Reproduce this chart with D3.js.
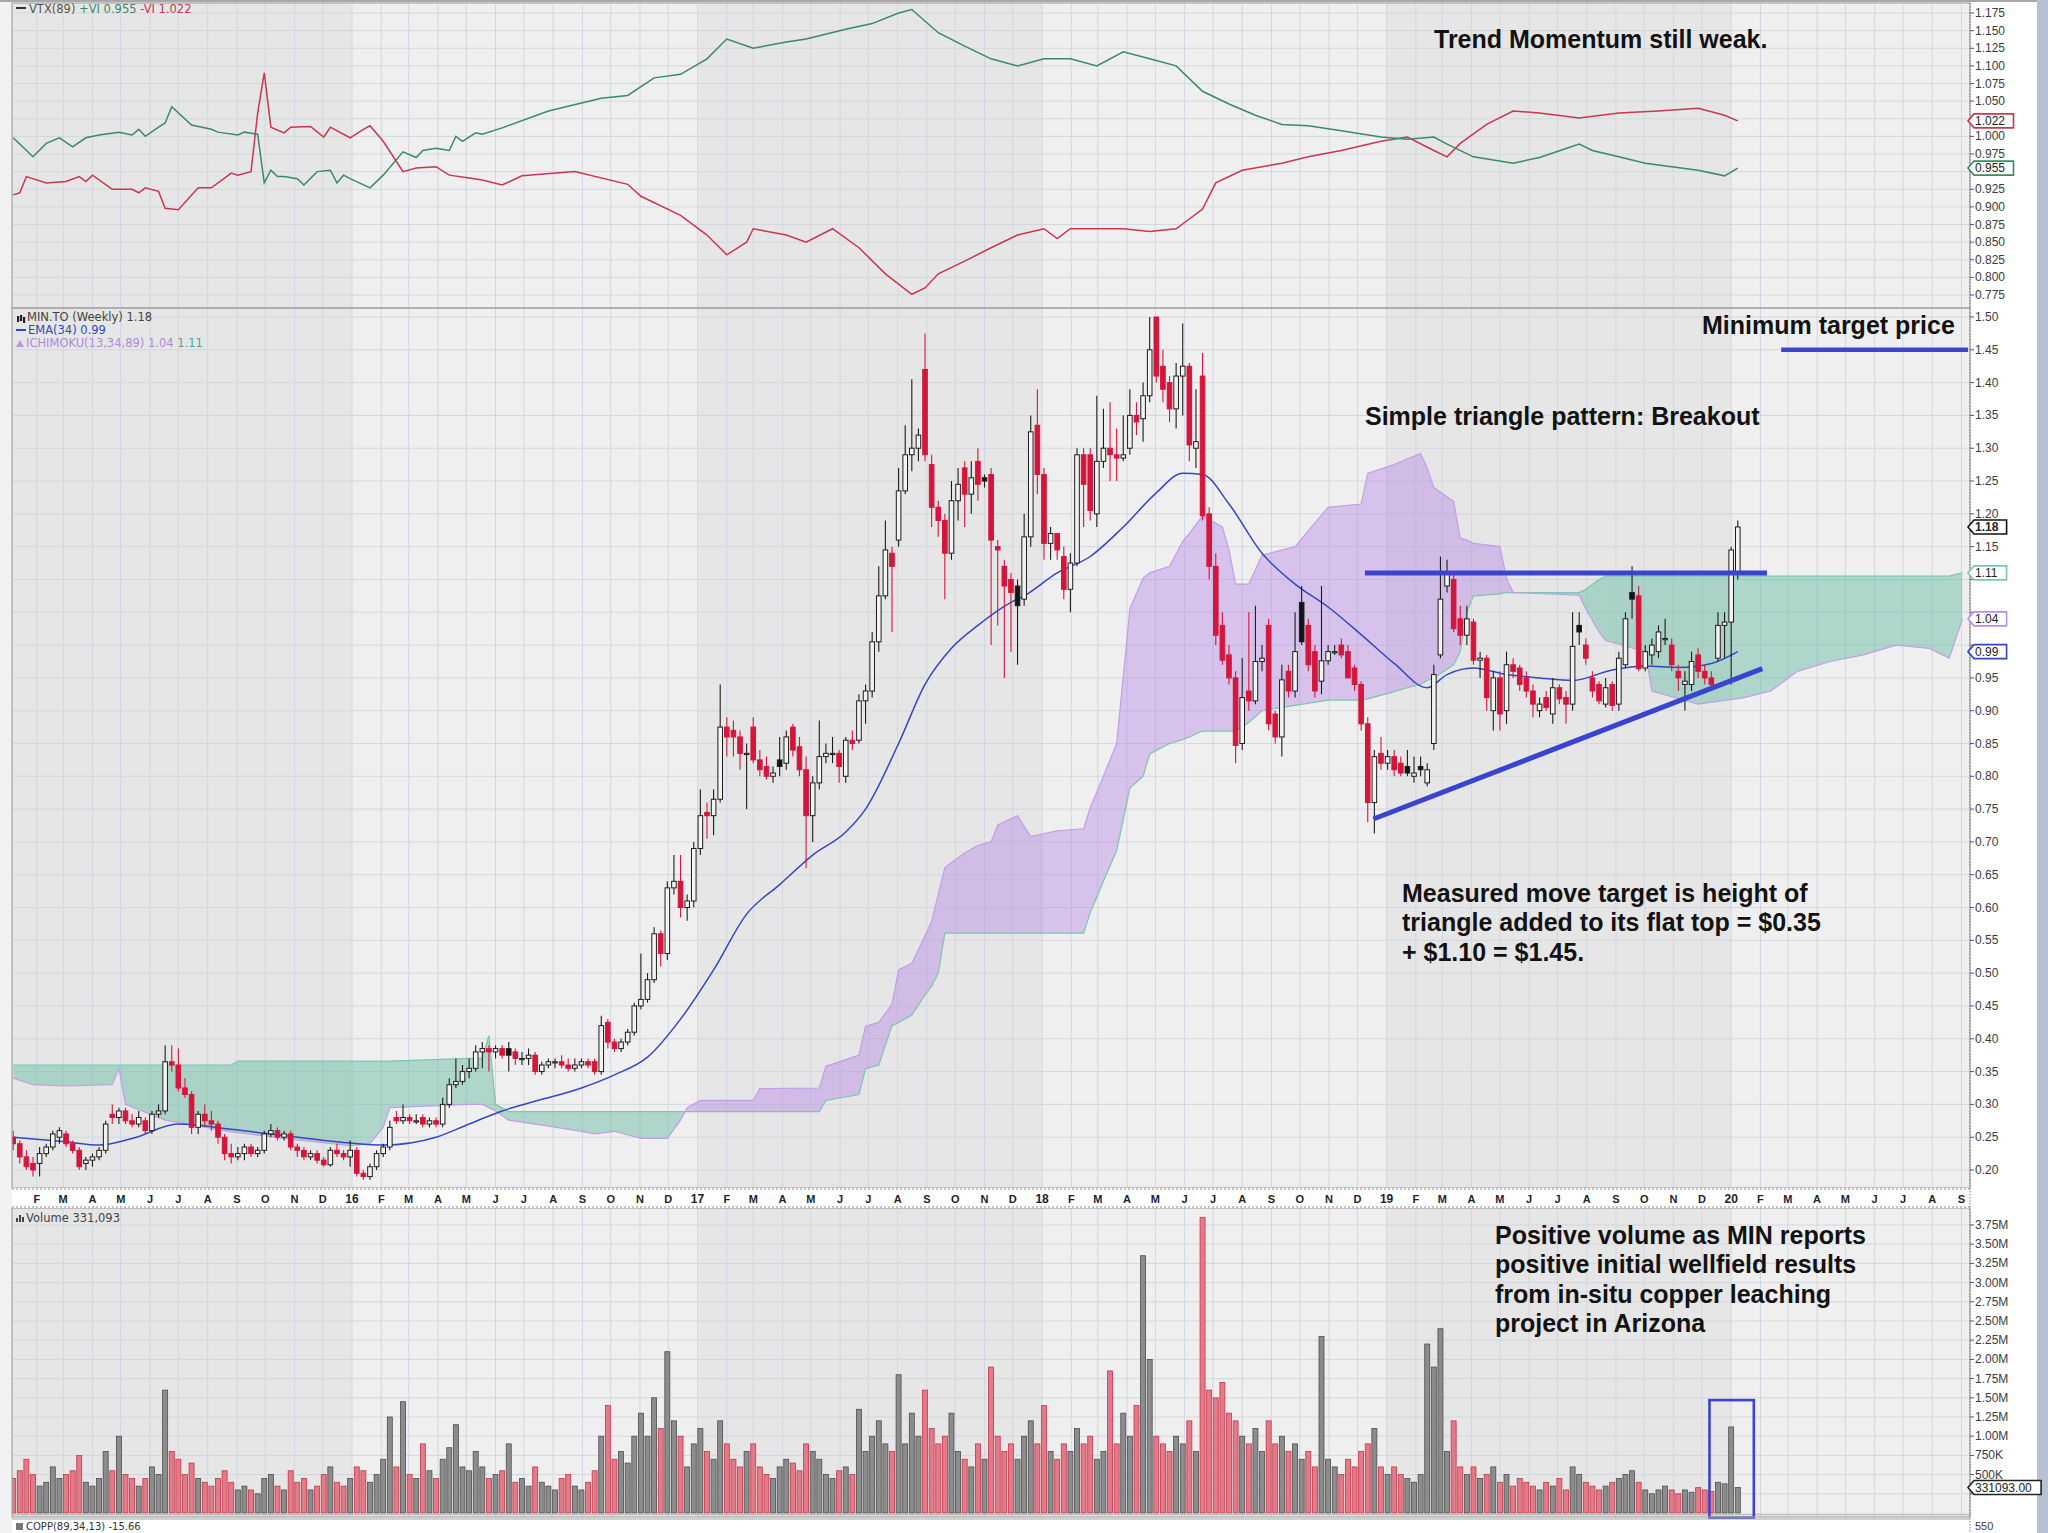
<!DOCTYPE html>
<html><head><meta charset="utf-8"><title>MIN.TO weekly</title>
<script src="https://cdn.jsdelivr.net/npm/d3@7/dist/d3.min.js"></script>
<style>html,body{margin:0;padding:0;background:#fff;overflow:hidden}svg{display:block}</style>
</head><body>
<svg id="chart" width="2048" height="1533"></svg>
<script>
// ---------------- DATA (weekly, first bar = week of 2015-01-07) ----------------
const opens=[.25,.24,.22,.21,.21,.225,.235,.25,.255,.24,
.23,.21,.215,.22,.23,.285,.28,.29,.275,.27,
.275,.26,.285,.29,.365,.36,.325,.315,.265,.285,
.275,.27,.25,.225,.22,.225,.235,.225,.23,.255,
.26,.25,.255,.235,.23,.22,.225,.215,.208,.23,
.225,.22,.23,.195,.19,.205,.225,.235,.28,.275,
.28,.275,.28,.27,.275,.27,.30,.33,.335,.35,
.355,.38,.385,.38,.385,.385,.38,.37,.37,.375,
.35,.36,.365,.365,.36,.355,.36,.365,.365,.35,
.425,.395,.385,.395,.41,.45,.46,.49,.56,.53,
.63,.64,.60,.61,.69,.745,.74,.765,.875,.87,
.86,.835,.875,.825,.815,.80,.825,.82,.875,.845,
.81,.74,.79,.83,.835,.835,.80,.855,.855,.915,
.93,1.005,1.075,1.14,1.16,1.235,1.29,1.30,1.42,1.275,
1.21,1.19,1.14,1.22,1.27,1.23,1.28,1.255,1.26,1.15,
1.12,1.10,1.09,1.07,1.165,1.335,1.26,1.155,1.17,1.135,
1.085,1.125,1.29,1.29,1.20,1.28,1.30,1.29,1.285,1.30,
1.35,1.345,1.38,1.50,1.425,1.40,1.36,1.41,1.425,1.30,
1.41,1.20,1.12,1.03,.985,.95,.85,.93,.915,.975,
1.03,.895,.86,.96,.93,1.065,1.03,.99,.945,.976,
.99,1.00,.99,.965,.94,.88,.76,.835,.82,.83,
.82,.815,.80,.815,.79,.85,.985,1.09,1.10,1.04,
1.015,1.035,.977,.98,.90,.95,.90,.97,.965,.95,
.93,.90,.92,.895,.935,.92,.91,1.03,1.00,.95,
.94,.91,.94,.91,.97,1.08,1.075,.965,.985,.99,
1.01,1.00,.96,.94,.94,.985,.96,.95,.98,1.03,
1.035,1.11];
const highs=[.26,.245,.23,.22,.235,.24,.26,.265,.26,.245,
.235,.22,.225,.235,.275,.30,.295,.295,.285,.29,
.28,.29,.30,.39,.39,.385,.34,.32,.29,.30,
.29,.275,.255,.24,.235,.24,.24,.235,.26,.27,
.265,.26,.26,.24,.235,.23,.23,.22,.235,.24,
.23,.245,.235,.20,.21,.23,.24,.275,.29,.30,
.285,.285,.285,.28,.28,.31,.34,.37,.36,.37,
.39,.395,.39,.39,.39,.395,.385,.38,.385,.38,
.365,.37,.37,.375,.37,.37,.37,.37,.37,.435,
.43,.40,.40,.415,.455,.53,.50,.57,.565,.64,
.68,.68,.62,.70,.78,.76,.78,.94,.89,.885,
.87,.85,.89,.84,.83,.815,.86,.87,.88,.86,
.83,.80,.885,.85,.86,.84,.86,.87,.925,.94,
1.02,1.12,1.19,1.15,1.27,1.335,1.405,1.33,1.475,1.29,
1.22,1.20,1.25,1.27,1.28,1.28,1.30,1.26,1.27,1.16,
1.13,1.11,1.10,1.20,1.35,1.39,1.27,1.18,1.17,1.15,
1.14,1.30,1.30,1.30,1.38,1.36,1.37,1.33,1.35,1.39,
1.37,1.40,1.50,1.50,1.45,1.41,1.43,1.49,1.43,1.39,
1.445,1.21,1.14,1.05,1.00,.96,.98,1.05,1.06,1.00,
1.04,.90,.97,.97,1.05,1.09,1.04,1.00,1.09,1.00,
1.00,1.01,1.00,.97,.945,.89,.84,.86,.84,.84,
.83,.84,.83,.83,.82,.97,1.135,1.13,1.11,1.06,
1.06,1.04,.99,.985,.96,.96,.99,.98,.97,.96,
.94,.92,.93,.95,.94,.93,1.05,1.05,1.01,.96,
.945,.95,.945,.99,1.05,1.12,1.09,1.00,1.01,1.03,
1.04,1.01,.97,.96,.99,.995,.97,.96,1.05,1.05,
1.15,1.19];
const lows=[.23,.21,.20,.19,.19,.22,.23,.24,.235,.225,
.20,.20,.205,.215,.225,.27,.27,.27,.265,.265,
.255,.255,.28,.285,.35,.32,.31,.255,.255,.265,
.26,.24,.215,.21,.215,.215,.22,.22,.225,.25,
.245,.245,.23,.22,.215,.215,.21,.205,.205,.22,
.215,.205,.19,.185,.185,.20,.22,.23,.27,.27,
.27,.27,.265,.265,.265,.265,.295,.325,.33,.34,
.35,.355,.35,.37,.37,.35,.36,.36,.36,.345,
.345,.355,.355,.355,.35,.35,.355,.355,.345,.345,
.385,.38,.38,.39,.405,.445,.455,.485,.51,.52,
.62,.585,.58,.60,.68,.705,.71,.76,.83,.83,
.81,.75,.82,.80,.795,.79,.80,.81,.83,.80,
.66,.70,.78,.82,.82,.79,.79,.84,.85,.88,
.92,.99,1.07,1.02,1.15,1.23,1.265,1.28,1.28,1.18,
1.165,1.07,1.13,1.19,1.18,1.20,1.22,1.24,1.00,1.03,
.95,.99,.97,1.06,1.15,1.23,1.13,1.13,1.13,1.07,
1.05,1.12,1.18,1.19,1.18,1.27,1.25,1.25,1.28,1.29,
1.32,1.31,1.37,1.40,1.37,1.34,1.33,1.35,1.28,1.27,
1.19,1.10,1.00,.97,.94,.82,.84,.90,.91,.96,
.87,.85,.83,.92,.92,1.00,.96,.92,.925,.97,
.985,.98,.95,.93,.87,.73,.713,.81,.81,.80,
.80,.80,.79,.80,.785,.84,.98,1.08,1.02,1.00,
1.00,.97,.95,.90,.87,.87,.88,.95,.93,.92,
.89,.89,.90,.88,.91,.88,.90,1.00,.97,.92,
.91,.905,.90,.90,.965,1.04,.96,.96,.97,.98,
1.00,.96,.93,.90,.93,.95,.94,.93,.975,.98,
.94,1.10];
const closes=[.24,.22,.205,.20,.225,.235,.255,.26,.24,.23,
.205,.215,.22,.23,.27,.28,.29,.275,.27,.28,
.26,.285,.29,.365,.36,.325,.315,.265,.285,.275,
.27,.25,.225,.22,.225,.235,.225,.23,.255,.26,
.25,.255,.235,.23,.22,.225,.215,.208,.23,.225,
.22,.23,.195,.19,.205,.225,.235,.265,.275,.28,
.275,.275,.27,.275,.27,.30,.33,.335,.35,.355,
.38,.385,.38,.385,.375,.375,.37,.37,.375,.35,
.36,.365,.365,.36,.355,.36,.365,.36,.35,.42,
.395,.385,.395,.41,.45,.46,.49,.56,.53,.63,
.64,.60,.61,.69,.74,.74,.765,.875,.86,.86,
.835,.835,.825,.81,.80,.805,.815,.86,.84,.81,
.74,.79,.83,.835,.835,.815,.855,.85,.915,.93,
1.005,1.075,1.145,1.12,1.235,1.29,1.30,1.32,1.29,1.21,
1.19,1.14,1.22,1.245,1.23,1.255,1.245,1.25,1.16,1.145,
1.09,1.08,1.06,1.165,1.325,1.26,1.155,1.17,1.145,1.085,
1.125,1.29,1.245,1.205,1.28,1.30,1.29,1.285,1.29,1.35,
1.34,1.38,1.45,1.41,1.39,1.36,1.41,1.425,1.305,1.31,
1.197,1.12,1.015,.977,.95,.847,.92,.915,.975,.98,
.88,.86,.947,.93,.99,1.005,.97,.93,.976,.99,
.99,.985,.95,.94,.88,.76,.83,.82,.83,.81,
.805,.805,.805,.81,.81,.955,1.07,1.11,1.025,1.015,
1.04,.977,.98,.92,.95,.895,.97,.96,.94,.93,
.91,.91,.905,.935,.918,.91,.998,1.02,.98,.93,
.915,.935,.908,.98,1.04,1.07,.964,.99,1.00,1.02,
1.01,.97,.95,.945,.975,.96,.95,.94,1.03,1.035,
1.145,1.18];
const blackFilled=[75,116,147,152,195,211,213,237,245];
// weekly volume, millions of shares
const volumes=[0.45,0.55,0.7,0.5,0.35,0.4,0.6,0.45,0.5,0.55,
0.75,0.4,0.35,0.45,0.8,0.55,1.0,0.5,0.45,0.35,
0.45,0.6,0.5,1.6,0.8,0.7,0.5,0.65,0.45,0.4,
0.35,0.45,0.55,0.4,0.3,0.35,0.3,0.25,0.45,0.5,
0.35,0.3,0.55,0.4,0.45,0.3,0.35,0.5,0.6,0.4,
0.35,0.45,0.6,0.55,0.4,0.5,0.7,1.25,0.6,1.45,
0.5,0.45,0.9,0.55,0.45,0.7,0.85,1.15,0.6,0.55,
0.8,0.6,0.45,0.5,0.55,0.9,0.4,0.45,0.35,0.6,
0.4,0.35,0.3,0.45,0.5,0.35,0.3,0.4,0.55,1.0,
1.4,0.7,0.8,0.65,1.0,1.3,1.0,1.5,1.1,2.1,
1.2,1.0,0.6,0.9,1.1,0.8,0.7,1.2,0.9,0.7,
0.6,0.8,0.9,0.6,0.5,0.45,0.6,0.7,0.65,0.55,
0.9,0.8,0.7,0.5,0.45,0.55,0.6,0.5,1.35,0.8,
1.0,1.2,0.9,0.8,1.8,0.9,1.3,1.0,1.6,1.1,
0.9,1.0,1.3,0.8,0.7,0.6,0.9,0.7,1.9,1.0,
0.8,0.9,0.7,1.0,1.2,0.9,1.4,0.8,0.7,0.9,
0.8,1.1,0.9,1.0,0.7,0.8,1.85,0.9,1.3,1.0,
1.4,3.35,2.0,1.0,0.9,0.8,1.0,0.9,1.2,0.8,
3.85,1.6,1.5,1.7,1.3,1.2,1.0,0.9,1.1,0.8,
1.2,0.9,1.0,0.8,0.9,0.7,0.8,0.6,2.3,0.7,
0.6,0.5,0.7,0.6,0.8,0.9,1.1,0.6,0.5,0.6,
0.5,0.45,0.4,0.5,2.2,1.9,2.4,0.8,1.2,0.6,
0.5,0.6,0.45,0.5,0.6,0.4,0.5,0.35,0.45,0.4,
0.35,0.3,0.4,0.35,0.45,0.3,0.6,0.5,0.4,0.35,
0.3,0.35,0.4,0.45,0.5,0.55,0.4,0.3,0.25,0.3,
0.35,0.3,0.25,0.3,0.27,0.33,0.3,0.28,0.4,0.38,
1.12,0.331093];
// EMA(34)
const emaWeeks=[0,8,13,18,25,33,43,51,56,64,69,74,78,86,91,96,101,106,111,116,121,126,129,134,138,142,146,151,153,158,163,168,173,177,180,184,189,194,199,204,209,214,217,221,226,231,236,242,247,252,257,261];
const emaValues=[0.25,0.243,0.238,0.248,0.27,0.262,0.25,0.241,0.238,0.25,0.27,0.29,0.302,0.325,0.345,0.372,0.43,0.505,0.59,0.635,0.68,0.715,0.75,0.85,0.94,0.995,1.03,1.065,1.075,1.11,1.135,1.18,1.232,1.262,1.26,1.215,1.14,1.093,1.058,1.016,0.972,0.935,0.955,0.965,0.955,0.95,0.946,0.962,0.968,0.966,0.972,0.99];
// Ichimoku(13,34,89) leading spans (plotted 34 weeks ahead)
const cloudWeeks=[0,3,8,15,16,17,23,33,34,43,51,54,56,57,69,71,72,73,75,81,86,88,91,95,99,101,102,104,112,113,122,123,128,129,131,133,134,136,138,139,140,141,144,146,148,149,152,154,158,162,163,165,167,169,171,172,175,177,178,180,183,184,185,187,189,194,199,204,205,209,211,213,214,215,218,219,220,221,225,226,227,237,238,240,241,247,248,255,262,266,270,275,280,285,290,293,295];
const spanA=[0.36,0.36,0.36,0.36,0.36,0.36,0.36,0.36,0.366,0.366,0.366,0.366,0.366,0.366,0.37,0.37,0.405,0.30,0.289,0.289,0.289,0.289,0.289,0.289,0.289,0.289,0.289,0.289,0.289,0.289,0.289,0.306,0.315,0.354,0.36,0.42,0.425,0.436,0.467,0.48,0.50,0.561,0.561,0.561,0.561,0.561,0.561,0.561,0.561,0.561,0.592,0.64,0.687,0.782,0.80,0.834,0.85,0.856,0.86,0.869,0.869,0.869,0.869,0.882,0.90,0.908,0.916,0.916,0.918,0.929,0.935,0.94,0.946,0.95,0.97,0.99,1.05,1.075,1.078,1.08,1.08,1.08,1.085,1.10,1.105,1.105,1.105,1.105,1.105,1.105,1.105,1.105,1.105,1.105,1.105,1.105,1.11];
const spanB=[0.34,0.33,0.328,0.33,0.355,0.30,0.276,0.258,0.257,0.246,0.237,0.24,0.265,0.295,0.30,0.30,0.295,0.29,0.276,0.267,0.259,0.255,0.259,0.248,0.248,0.276,0.295,0.306,0.306,0.324,0.325,0.358,0.375,0.419,0.425,0.453,0.505,0.515,0.557,0.579,0.62,0.661,0.683,0.695,0.70,0.726,0.74,0.708,0.717,0.72,0.752,0.80,0.85,1.055,1.102,1.11,1.12,1.158,1.17,1.197,1.18,1.145,1.093,1.093,1.137,1.15,1.21,1.215,1.262,1.275,1.284,1.292,1.27,1.24,1.219,1.163,1.16,1.155,1.15,1.102,1.08,1.076,1.055,1.02,1.007,0.99,0.93,0.91,0.92,0.93,0.96,0.975,0.985,1.0,0.995,0.98,1.04];
// Vortex indicator (89)
const vtxPlusWeeks=[0,3,5,7,9,11,13,16,18,19,20,22,23,24,27,30,31,34,35,37,38,39,40,41,43,44,46,48,49,50,51,54,56,59,61,62,64,66,67,68,70,71,74,81,89,93,97,101,105,108,112,117,120,126,130,134,136,140,144,148,152,156,160,164,168,172,176,180,184,188,192,196,201,207,211,215,217,221,227,231,237,239,243,247,251,255,259,261];
const vtxPlus=[0.998,0.971,0.99,0.998,0.985,0.998,1.002,1.006,1.002,1.01,1.0,1.013,1.019,1.042,1.016,1.01,1.006,1.002,1.006,1.003,0.934,0.952,0.943,0.943,0.94,0.931,0.95,0.952,0.934,0.945,0.94,0.927,0.945,0.978,0.97,0.98,0.983,0.98,1.0,0.993,1.005,1.003,1.012,1.036,1.054,1.058,1.083,1.088,1.11,1.138,1.125,1.134,1.138,1.152,1.16,1.175,1.18,1.147,1.128,1.11,1.10,1.11,1.11,1.10,1.12,1.11,1.10,1.064,1.046,1.03,1.017,1.015,1.008,0.999,0.996,0.999,0.989,0.971,0.962,0.97,0.989,0.98,0.971,0.962,0.957,0.952,0.944,0.955];
const vtxMinusWeeks=[0,1,2,5,8,10,11,12,15,18,19,20,22,23,25,28,30,33,34,36,37,38,39,41,42,45,47,48,51,53,54,56,59,61,64,66,69,71,74,77,85,93,95,101,105,108,111,112,117,120,124,128,132,136,138,140,144,148,152,156,158,160,168,172,176,180,182,186,192,196,201,207,211,215,217,219,223,227,231,237,243,249,255,259,261];
const vtxMinus=[0.917,0.92,0.943,0.934,0.936,0.943,0.936,0.945,0.925,0.925,0.92,0.927,0.922,0.898,0.896,0.927,0.927,0.948,0.945,0.95,1.033,1.09,1.013,1.005,1.013,1.014,0.999,1.013,0.998,1.01,1.015,0.993,0.95,0.955,0.957,0.945,0.941,0.938,0.931,0.944,0.95,0.932,0.915,0.888,0.86,0.832,0.85,0.869,0.86,0.85,0.869,0.842,0.805,0.776,0.785,0.805,0.823,0.842,0.86,0.869,0.855,0.869,0.869,0.865,0.869,0.897,0.934,0.952,0.962,0.971,0.98,0.993,0.999,0.98,0.971,0.99,1.017,1.036,1.033,1.026,1.033,1.036,1.04,1.03,1.022];
// axis tick labels
const monthLetters=["J","F","M","A","M","J","J","A","S","O","N","D"];
const vtxTicks=[0.775,0.8,0.825,0.85,0.875,0.9,0.925,0.95,0.975,1.0,1.025,1.05,1.075,1.1,1.125,1.15,1.175];
const priceTicks=[0.2,0.25,0.3,0.35,0.4,0.45,0.5,0.55,0.6,0.65,0.7,0.75,0.8,0.85,0.9,0.95,1.0,1.05,1.1,1.15,1.2,1.25,1.3,1.35,1.4,1.45,1.5];
const volTicks=[0.25,0.5,0.75,1.0,1.25,1.5,1.75,2.0,2.25,2.5,2.75,3.0,3.25,3.5,3.75];
const volTickLabels=["250K","500K","750K","1.00M","1.25M","1.50M","1.75M","2.00M","2.25M","2.50M","2.75M","3.00M","3.25M","3.50M","3.75M"];
// annotation drawings (date, value)
const flatTop={d0:"2018-12-09",d1:"2020-02-08",p:1.11};
const risingLine={d0:"2018-12-18",p0:0.735,d1:"2020-02-03",p1:0.964};
const targetLine={d0:"2020-02-23",d1:"2020-09-08",p:1.45};
const volBox={d0:"2019-12-09",d1:"2020-01-25",v0:-0.06,v1:1.47};
const notes=[
 {x:1434,y:48,lines:["Trend Momentum still weak."]},
 {x:1702,y:334,lines:["Minimum target price"]},
 {x:1365,y:425,lines:["Simple triangle pattern: Breakout"]},
 {x:1402,y:902,lines:["Measured move target is height of","triangle added to its flat top = $0.35","+ $1.10 = $1.45."]},
 {x:1495,y:1244,lines:["Positive volume as MIN reports","positive initial wellfield results","from in-situ copper leaching","project in Arizona"]}
];

// ---------------- CHART ----------------
const svg=d3.select('#chart');
const FA='Liberation Sans, Arial, Helvetica, sans-serif';
const FV='DejaVu Sans, Verdana, sans-serif';
const L=12,R=1970;
const P1={top:3,bottom:308},P2={top:308,bottom:1188},AX={top:1188,bottom:1208},P3={top:1208,bottom:1517};
const x=d3.scaleTime().domain([new Date(2015,0,1),new Date(2020,8,10)]).range([7.5,R]);
const wk=i=>d3.timeDay.offset(new Date(2015,0,7),7*i);
const xw=i=>x(wk(i));
const pd=s=>{const [a,b,c]=s.split('-').map(Number);return new Date(a,b-1,c);};
const yV=d3.scaleLinear().domain([0.775,1.175]).range([295,13]);
const yP=d3.scaleLinear().domain([0.20,1.50]).range([1170,317]);
const yVol=d3.scaleLinear().domain([0,3.75]).range([1513,1225]);

svg.append('rect').attr('width',2048).attr('height',1533).attr('fill','#ffffff');
svg.append('rect').attr('x',0).attr('y',0).attr('width',L).attr('height',1533).attr('fill','#f2f2f2');
svg.append('rect').attr('x',2037).attr('y',0).attr('width',11).attr('height',1533).attr('fill','#b6c1d1');

const defs=svg.append('defs');
[['cp1',P1],['cp2',P2],['cp3',P3]].forEach(([id,p])=>defs.append('clipPath').attr('id',id)
  .append('rect').attr('x',L).attr('y',p.top).attr('width',R-L).attr('height',p.bottom-p.top));

// panel backgrounds with alternating year shading
const years=d3.range(2015,2021);
[P1,P2,P3].forEach(p=>{
  years.forEach(yr=>{
    const x0=Math.max(L,x(new Date(yr,0,1))), x1=Math.min(R,x(new Date(yr+1,0,1)));
    if(x1>x0) svg.append('rect').attr('x',x0).attr('y',p.top).attr('width',x1-x0).attr('height',p.bottom-p.top)
      .attr('fill',yr%2?'#e6e6e6':'#efefef');
  });
});
// grid
const gridCol='#d2d7e0';
const months=d3.timeMonth.range(new Date(2015,1,1),new Date(2020,8,11));
[P1,P2,P3].forEach(p=>{
  months.forEach(m=>{const xx=x(m); if(xx>L&&xx<R) svg.append('line').attr('x1',xx).attr('x2',xx).attr('y1',p.top).attr('y2',p.bottom).attr('stroke',gridCol).attr('stroke-width',1);});
});
function hgrid(ticks,sc){ticks.forEach(t=>svg.append('line').attr('x1',L).attr('x2',R).attr('y1',sc(t)).attr('y2',sc(t)).attr('stroke',gridCol).attr('stroke-width',1));}
hgrid(vtxTicks,yV); hgrid(priceTicks,yP); hgrid(volTicks,yVol);

// ---- VTX panel ----
const g1=svg.append('g').attr('clip-path','url(#cp1)');
const lineV=(ws)=>d3.line().x((d,k)=>xw(ws[k])).y(d=>yV(d));
g1.append('path').attr('d',lineV(vtxMinusWeeks)(vtxMinus)).attr('fill','none').attr('stroke','#c9374d').attr('stroke-width',1.5);
g1.append('path').attr('d',lineV(vtxPlusWeeks)(vtxPlus)).attr('fill','none').attr('stroke','#3a8a66').attr('stroke-width',1.5);

// ---- Price panel ----
const g2=svg.append('g').attr('clip-path','url(#cp2)');
const idx=cloudWeeks.map((w,k)=>k);
defs.append('clipPath').attr('id','aboveB').append('path')
  .attr('d',d3.area().x(k=>xw(cloudWeeks[k])).y0(P2.top).y1(k=>yP(spanB[k]))(idx));
defs.append('clipPath').attr('id','belowB').append('path')
  .attr('d',d3.area().x(k=>xw(cloudWeeks[k])).y0(P2.bottom).y1(k=>yP(spanB[k]))(idx));
const cloudArea=d3.area().x(k=>xw(cloudWeeks[k])).y0(k=>yP(spanA[k])).y1(k=>yP(spanB[k]));
g2.append('g').attr('clip-path','url(#aboveB)').append('path').attr('d',cloudArea(idx)).attr('fill','rgb(110,190,165)').attr('fill-opacity',0.5);
g2.append('g').attr('clip-path','url(#belowB)').append('path').attr('d',cloudArea(idx)).attr('fill','rgb(182,132,228)').attr('fill-opacity',0.42);
g2.append('path').attr('d',d3.line().x(k=>xw(cloudWeeks[k])).y(k=>yP(spanA[k]))(idx)).attr('fill','none').attr('stroke','#7cc6b0').attr('stroke-width',1.2);
g2.append('path').attr('d',d3.line().x(k=>xw(cloudWeeks[k])).y(k=>yP(spanB[k]))(idx)).attr('fill','none').attr('stroke','#c29ee8').attr('stroke-width',1.2);
// EMA
g2.append('path').attr('d',d3.line().x((d,k)=>xw(emaWeeks[k])).y(d=>yP(d)).curve(d3.curveMonotoneX)(emaValues))
  .attr('fill','none').attr('stroke','#3546c4').attr('stroke-width',1.5);
// candles
const bw=4.6;
closes.forEach((c,i)=>{
  const o=opens[i],h=Math.max(highs[i],o,c),l=Math.min(lows[i],o,c);
  const cx=xw(i), up=c>=o, blk=blackFilled.includes(i);
  const col=(up||blk)?'#1d1d1d':'#d4163c';
  g2.append('line').attr('x1',cx).attr('x2',cx).attr('y1',yP(h)).attr('y2',yP(l)).attr('stroke',col).attr('stroke-width',1.1);
  const yt=yP(Math.max(o,c)), hb=Math.max(1.2,Math.abs(yP(o)-yP(c)));
  g2.append('rect').attr('x',cx-bw/2).attr('y',yt).attr('width',bw).attr('height',hb)
    .attr('fill',up?'#f3f3f3':(blk?'#141414':'#d4163c')).attr('stroke',col).attr('stroke-width',1);
});
// pattern drawings
const blue='#3b44cf';
g2.append('line').attr('x1',x(pd(flatTop.d0))).attr('x2',x(pd(flatTop.d1))).attr('y1',yP(flatTop.p)).attr('y2',yP(flatTop.p)).attr('stroke',blue).attr('stroke-width',5);
g2.append('line').attr('x1',x(pd(risingLine.d0))).attr('x2',x(pd(risingLine.d1))).attr('y1',yP(risingLine.p0)).attr('y2',yP(risingLine.p1)).attr('stroke',blue).attr('stroke-width',5);
g2.append('line').attr('x1',x(pd(targetLine.d0))).attr('x2',x(pd(targetLine.d1))).attr('y1',yP(targetLine.p)).attr('y2',yP(targetLine.p)).attr('stroke',blue).attr('stroke-width',4.5);

// ---- Volume panel ----
const g3=svg.append('g').attr('clip-path','url(#cp3)');
volumes.forEach((v,i)=>{
  const down=closes[i]<opens[i]&&!blackFilled.includes(i);
  const cx=xw(i);
  g3.append('rect').attr('x',cx-2.5).attr('y',yVol(v)).attr('width',5).attr('height',yVol(0)-yVol(v))
    .attr('fill',down?'#e27a87':'#8c8c8c').attr('stroke',down?'#c5364c':'#4e4e4e').attr('stroke-width',0.8);
});
svg.append('line').attr('x1',L).attr('x2',R).attr('y1',yVol(0)+1.5).attr('y2',yVol(0)+1.5).attr('stroke','#bdbdbd').attr('stroke-width',1.5);
svg.append('rect').attr('x',x(pd(volBox.d0))).attr('y',yVol(volBox.v1)).attr('width',x(pd(volBox.d1))-x(pd(volBox.d0))).attr('height',yVol(volBox.v0)-yVol(volBox.v1))
  .attr('fill','none').attr('stroke',blue).attr('stroke-width',2.6);

// ---- frames ----
[P1,P2,P3].forEach(p=>svg.append('rect').attr('x',L).attr('y',p.top).attr('width',R-L).attr('height',p.bottom-p.top).attr('fill','none').attr('stroke','#a3a3a3').attr('stroke-width',1.2));
svg.append('line').attr('x1',0).attr('x2',2037).attr('y1',1).attr('y2',1).attr('stroke','#a8a8a8').attr('stroke-width',2);
svg.append('rect').attr('x',L).attr('y',AX.top).attr('width',R-L).attr('height',AX.bottom-AX.top).attr('fill','#ffffff');
[AX.top+1,AX.bottom-1].forEach(yy=>svg.append('line').attr('x1',L).attr('x2',R).attr('y1',yy).attr('y2',yy).attr('stroke','#8a8a8a').attr('stroke-dasharray','2,2'));
svg.append('line').attr('x1',R).attr('x2',R).attr('y1',P1.top).attr('y2',1533).attr('stroke','#7a7a7a').attr('stroke-dasharray','1.5,1.5');
// COPP strip
svg.append('line').attr('x1',L).attr('x2',R).attr('y1',1519).attr('y2',1519).attr('stroke','#a3a3a3');
svg.append('text').attr('x',26).attr('y',1530).attr('font-family',FV).attr('font-size',10).attr('fill','#333').text('COPP(89,34,13) -15.66');
svg.append('rect').attr('x',16).attr('y',1523).attr('width',7).attr('height',7).attr('fill','#777');

// month labels
months.forEach(m=>{
  const xx=x(m); if(xx<20||xx>R-4) return;
  const mo=m.getMonth();
  svg.append('text').attr('x',xx).attr('y',1202.5).attr('text-anchor','middle').attr('font-family',FA)
    .attr('font-size',mo===0?12:11).attr('font-weight','bold').attr('fill','#1b1f2e')
    .text(mo===0?String(m.getFullYear()).slice(2):monthLetters[mo]);
});

// value tags (positions computed first so that axis labels hidden behind them are skipped)
const last=a=>a[a.length-1];
const tags=[
  [yV(last(vtxMinus)),last(vtxMinus).toFixed(3),'#c9374d',false],
  [yV(last(vtxPlus)),last(vtxPlus).toFixed(3),'#3a8a66',false],
  [yP(last(closes)),last(closes).toFixed(2),'#111',true],
  [yP(last(spanA)),last(spanA).toFixed(2),'#7cc6b0',false],
  [yP(last(spanB)),last(spanB).toFixed(2),'#b98ee6',false],
  [yP(last(emaValues)),last(emaValues).toFixed(2),'#3546c4',false],
  [yVol(last(volumes)),(last(volumes)*1e6).toFixed(2),'#222',false]
];
const covered=yy=>tags.some(t=>Math.abs(t[0]-yy)<10);

// right axis labels
function axisLabels(ticks,sc,fmt){
  ticks.forEach((t,k)=>{
    svg.append('line').attr('x1',R).attr('x2',R+4).attr('y1',sc(t)).attr('y2',sc(t)).attr('stroke','#555');
    if(covered(sc(t))) return;
    svg.append('text').attr('x',R+5).attr('y',sc(t)+4).attr('font-family',FA).attr('font-size',12).attr('fill','#3a3a44').text(fmt(t,k));
  });
}
axisLabels(vtxTicks,yV,t=>t.toFixed(3));
axisLabels(priceTicks,yP,t=>t.toFixed(2));
axisLabels(volTicks,yVol,(t,k)=>volTickLabels[k]);
svg.append('text').attr('x',R+5).attr('y',1530).attr('font-family',FA).attr('font-size',11).attr('fill','#3a3a44').text('550');

function tag(yy,label,stroke,bold){
  const w=label.length*6.9+11,h=14,x0=R-2;
  svg.append('path').attr('d',`M${x0},${yy}L${x0+6},${yy-h/2}L${x0+w},${yy-h/2}L${x0+w},${yy+h/2}L${x0+6},${yy+h/2}Z`)
    .attr('fill','#ffffff').attr('stroke',stroke).attr('stroke-width',1.6);
  svg.append('text').attr('x',x0+7).attr('y',yy+4.3).attr('font-family',FA).attr('font-size',12)
    .attr('font-weight',bold?'bold':'normal').attr('fill','#222').text(label);
}
tags.forEach(t=>tag(...t));

// legends
function legend(xx,yy,parts){
  const t=svg.append('text').attr('x',xx).attr('y',yy).attr('font-family',FV).attr('font-size',11.5);
  parts.forEach(([s,c])=>t.append('tspan').attr('fill',c).text(s));
}
svg.append('line').attr('x1',16).attr('x2',26).attr('y1',8).attr('y2',8).attr('stroke','#333').attr('stroke-width',2);
legend(29,12.5,[["VTX(89) ","#555"],["+VI "+last(vtxPlus).toFixed(3)+" ","#3a8a66"],["-VI "+last(vtxMinus).toFixed(3),"#c9374d"]]);
[[17,2],[20,1],[23,3]].forEach(([xx,o])=>svg.append('rect').attr('x',xx).attr('y',314+o).attr('width',2.2).attr('height',6).attr('fill','#222'));
legend(27,321,[["MIN.TO (Weekly) "+last(closes).toFixed(2),"#444"]]);
svg.append('line').attr('x1',16).attr('x2',26).attr('y1',330).attr('y2',330).attr('stroke','#3546c4').attr('stroke-width',2);
legend(28,334,[["EMA(34) "+last(emaValues).toFixed(2),"#3546c4"]]);
svg.append('path').attr('d','M16,347 L20,340 L24,347 Z').attr('fill','#b898e2');
legend(26,347,[["ICHIMOKU(13,34,89) "+last(spanB).toFixed(2)+" ","#ad8ae0"],[last(spanA).toFixed(2),"#4fa88f"]]);
[[16,4],[19,7],[22,5]].forEach(([xx,hh])=>svg.append('rect').attr('x',xx).attr('y',1222-hh).attr('width',2).attr('height',hh).attr('fill','#444'));
legend(26,1222,[["Volume "+d3.format(",")(Math.round(last(volumes)*1e6)),"#444"]]);

// annotation notes
notes.forEach(n=>{
  n.lines.forEach((s,k)=>svg.append('text').attr('x',n.x).attr('y',n.y+k*29.3).attr('font-family',FA)
    .attr('font-size',25).attr('font-weight','bold').attr('fill','#121212').text(s));
});
</script>
</body></html>
